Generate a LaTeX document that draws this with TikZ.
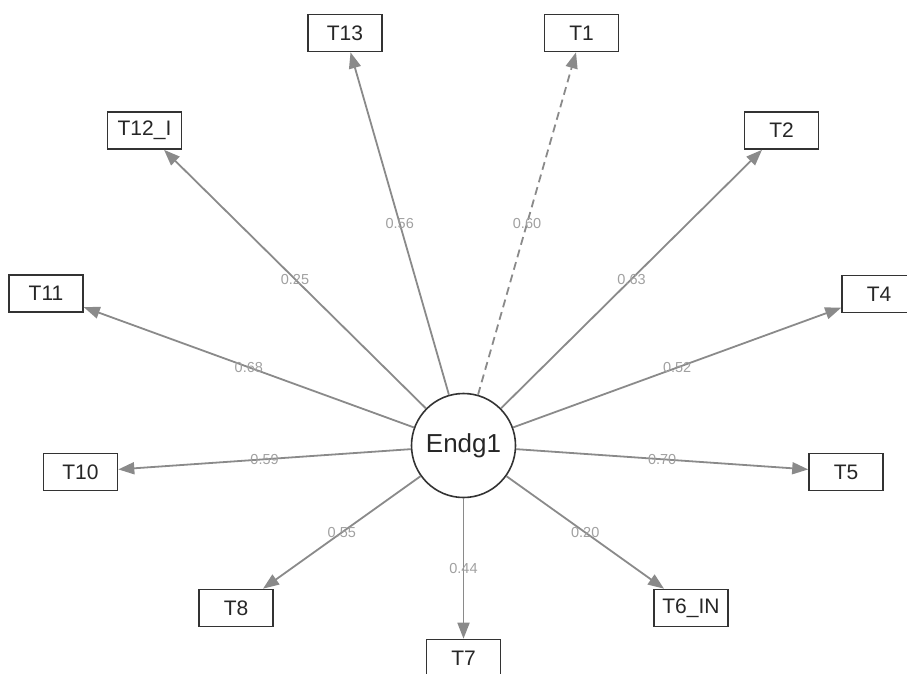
\documentclass[tikz,border=0pt]{standalone}
\usepackage{fontspec}
\setmainfont{Liberation Sans}
\usetikzlibrary{arrows.meta}
\definecolor{edgegray}{HTML}{8A8A8A}
\definecolor{labgray}{HTML}{A0A0A0}
\definecolor{boxline}{HTML}{333333}
\begin{document}
\begin{tikzpicture}[x=1pt,y=-1pt,
  obs/.style={draw=boxline, line width=1.6pt, minimum width=74pt, minimum height=37pt, inner sep=0pt, font=\fontsize{21}{21}\selectfont, text=black!85},
  lat/.style={draw=boxline, line width=1.6pt, circle, minimum size=104pt, inner sep=0pt, font=\fontsize{26}{26}\selectfont, text=black!85},
  ld/.style={draw=edgegray, line width=1.8pt, -{Triangle[length=16pt,width=12pt]}},
  lab/.style={font=\fontsize{14.5}{14.5}\selectfont, text=labgray, inner sep=1pt}
]
\useasboundingbox (0,0) rectangle (907,673);
\node[lat] (E) at (463.5,445.5) {Endg1};
\node[obs] (T13) at (345,33) {T13};
\node[obs] (T1) at (581.5,33) {T1};
\node[obs] (T12) at (144.5,130.5) {T12\_I};
\node[obs] (T2) at (781.5,130.5) {T2};
\node[obs] (T11) at (46,293.5) {T11};
\node[obs] (T4) at (879,294) {T4};
\node[obs] (T10) at (80.5,472) {T10};
\node[obs] (T5) at (846,472) {T5};
\node[obs] (T8) at (236,608) {T8};
\node[obs] (T6) at (691,608) {T6\_IN};
\node[obs] (T7) at (463.5,658) {T7};
\draw[ld] (E) -- node[lab]{0.56} (T13);
\draw[ld, dash pattern=on 8pt off 5pt] (E) -- node[lab]{0.60} (T1);
\draw[ld] (E) -- node[lab]{0.25} (T12);
\draw[ld] (E) -- node[lab]{0.63} (T2);
\draw[ld] (E) -- node[lab]{0.68} (T11);
\draw[ld] (E) -- node[lab]{0.52} (T4);
\draw[ld] (E) -- node[lab]{0.59} (T10);
\draw[ld] (E) -- node[lab]{0.70} (T5);
\draw[ld] (E) -- node[lab]{0.55} (T8);
\draw[ld] (E) -- node[lab]{0.20} (T6);
\draw[ld] (E) -- node[lab]{0.44} (T7);
\end{tikzpicture}
\end{document}
